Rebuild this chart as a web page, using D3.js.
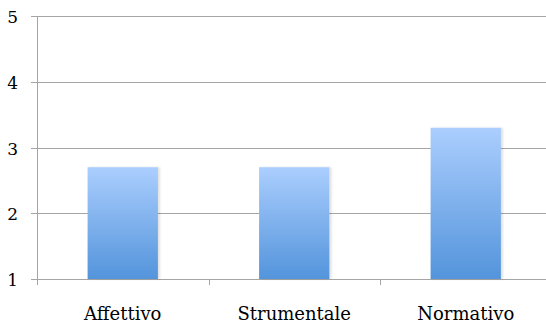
<!DOCTYPE html>
<html>
<head>
<meta charset="utf-8">
<script src="https://cdn.jsdelivr.net/npm/d3@7/dist/d3.min.js"></script>
<style>
  html, body { margin: 0; padding: 0; background: #fff; }
  svg { display: block; }
</style>
</head>
<body>
<svg id="chart" width="546" height="323"></svg>
<script>
// Chart data
const categories = ["Affettivo", "Strumentale", "Normativo"];
const values = [2.7, 2.7, 3.3];
const yTicks = [1, 2, 3, 4, 5];

const width = 546, height = 323;
const margin = { top: 16, left: 37, bottom: 44 };
const plotW = 514.5;
const labelFont = "'DejaVu Serif', 'Liberation Serif', serif";

const svg = d3.select("#chart");

const x = d3.scaleBand()
  .domain(categories)
  .range([margin.left, margin.left + plotW])
  .paddingInner(0.59)
  .paddingOuter(0.295);

const xOuter = d3.scaleBand()
  .domain(categories)
  .range([margin.left, margin.left + plotW]);

const y = d3.scaleLinear()
  .domain([1, 5])
  .range([height - margin.bottom, margin.top]);

// Bar gradient
const defs = svg.append("defs");
const grad = defs.append("linearGradient")
  .attr("id", "barFill")
  .attr("x1", 0).attr("y1", 0).attr("x2", 0).attr("y2", 1);
grad.append("stop").attr("offset", "0%").attr("stop-color", "#abcefe");
grad.append("stop").attr("offset", "100%").attr("stop-color", "#5394db");

const shadow = defs.append("filter").attr("id", "barShadow")
  .attr("x", "-10%").attr("y", "-10%").attr("width", "130%").attr("height", "120%");
shadow.append("feDropShadow")
  .attr("dx", 2).attr("dy", 0).attr("stdDeviation", 1.2)
  .attr("flood-color", "#000").attr("flood-opacity", 0.12);

// Horizontal grid lines
svg.append("g")
  .selectAll("line")
  .data(yTicks)
  .join("line")
  .attr("x1", margin.left - 6)
  .attr("x2", margin.left + plotW)
  .attr("y1", d => Math.round(y(d)) + 0.5)
  .attr("y2", d => Math.round(y(d)) + 0.5)
  .attr("stroke", "#a5a5a5")
  .attr("stroke-width", 1);

// Y axis line
svg.append("line")
  .attr("x1", margin.left + 0.5).attr("x2", margin.left + 0.5)
  .attr("y1", y(5)).attr("y2", y(1) + 6)
  .attr("stroke", "#a5a5a5");

// Category separator ticks
svg.append("g")
  .selectAll("line")
  .data(categories)
  .join("line")
  .attr("x1", d => Math.round(xOuter(d) + xOuter.bandwidth()) + 0.5)
  .attr("x2", d => Math.round(xOuter(d) + xOuter.bandwidth()) + 0.5)
  .attr("y1", y(1))
  .attr("y2", y(1) + 6)
  .attr("stroke", "#a5a5a5");

// Bars
svg.append("g")
  .selectAll("rect")
  .data(values)
  .join("rect")
  .attr("x", (d, i) => x(categories[i]))
  .attr("width", x.bandwidth())
  .attr("y", d => y(d))
  .attr("height", d => y(1) - y(d))
  .attr("fill", "url(#barFill)")
  .attr("filter", "url(#barShadow)");

// Y tick labels
svg.append("g")
  .selectAll("text")
  .data(yTicks)
  .join("text")
  .attr("x", 18)
  .attr("y", d => y(d) + 7)
  .attr("text-anchor", "end")
  .attr("font-family", labelFont)
  .attr("font-size", 17)
  .attr("fill", "#000")
  .text(d => d);

// Category labels
svg.append("g")
  .selectAll("text")
  .data(categories)
  .join("text")
  .attr("x", d => xOuter(d) + xOuter.bandwidth() / 2)
  .attr("y", 320)
  .attr("text-anchor", "middle")
  .attr("font-family", labelFont)
  .attr("font-size", 18)
  .attr("fill", "#000")
  .text(d => d);
</script>
</body>
</html>
